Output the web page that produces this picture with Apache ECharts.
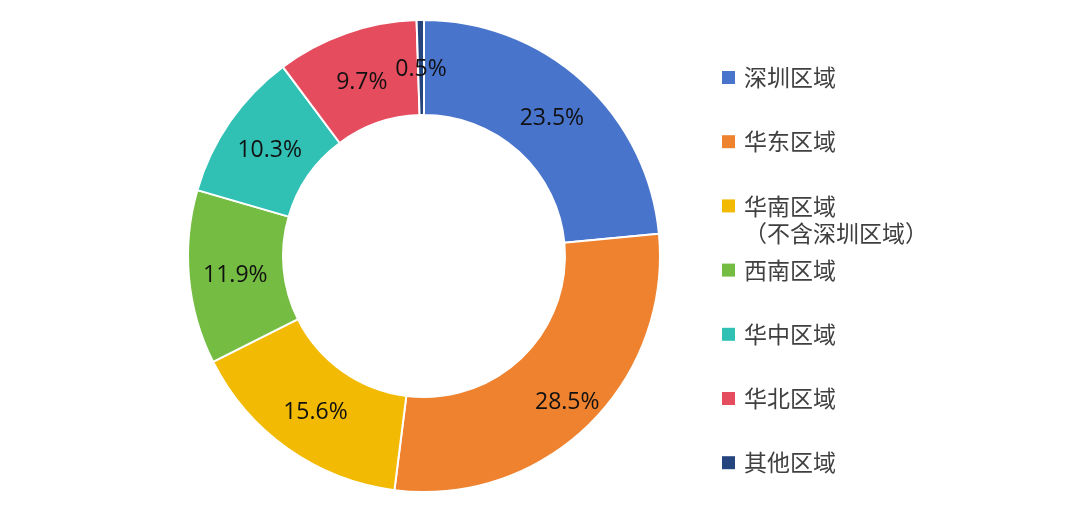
<!DOCTYPE html>
<html>
<head>
<meta charset="utf-8">
<style>
html, body { margin: 0; padding: 0; background: #fff; }
#main { width: 1080px; height: 514px; }
</style>
<script src="https://cdn.jsdelivr.net/npm/echarts@6/dist/echarts.min.js"></script>
</head>
<body>
<div id="main"></div>
<script>
var categories = ['深圳区域', '华东区域', '华南区域', '西南区域', '华中区域', '华北区域', '其他区域'];
var shares = [23.5, 28.5, 15.6, 11.9, 10.3, 9.7, 0.5];
var colors = ['#4874CB', '#EE822F', '#F2BA02', '#75BD42', '#30C0B4', '#E54C5E', '#25457F'];
var southNote = '（不含深圳区域）';

var myChart = echarts.init(document.getElementById('main'));

var legendFont = '"Noto Sans CJK SC", sans-serif';

// one legend per item, the note under 华南区域 must not push the rows apart
var legends = categories.map(function (name, i) {
    var isSouth = name === '华南区域';
    return {
        data: [name],
        orient: 'vertical',
        left: 722,
        top: 64 + i * 64.2 - (isSouth ? 27 : 0),
        padding: 0,
        icon: 'rect',
        itemWidth: 13,
        itemHeight: 13,
        selectedMode: false,
        itemStyle: { borderWidth: 0 },
        textStyle: {
            fontFamily: legendFont,
            fontSize: 23,
            lineHeight: 27,
            color: '#404040',
            padding: [0, 0, 0, 4]
        },
        formatter: function (n) {
            // blank first line keeps the marker level with the region name
            return isSouth ? '\n' + n + '\n' + southNote : n;
        }
    };
});

// hand nudges, the labels in the picture are not exactly on the ring middle
var labelNudge = [[-1, 4], [10, 9], [2, 0], [2, 2], [3, 4], [1, 7], [0, 5]];

var option = {
    animation: false,
    color: colors,
    legend: legends,
    series: [{
        type: 'pie',
        center: [424, 256],
        radius: [141, 236],
        startAngle: 90,
        clockwise: true,
        avoidLabelOverlap: false,
        itemStyle: { borderColor: '#fff', borderWidth: 2 },
        label: {
            position: 'inside',
            formatter: '{c}%',
            fontFamily: '"Open Sans", sans-serif',
            fontSize: 23,
            color: '#111'
        },
        labelLine: { show: false },
        labelLayout: function (params) {
            var n = labelNudge[params.dataIndex];
            return { dx: n[0], dy: n[1] };
        },
        data: categories.map(function (name, i) {
            return { name: name, value: shares[i] };
        })
    }]
};

myChart.setOption(option);
</script>
</body>
</html>
